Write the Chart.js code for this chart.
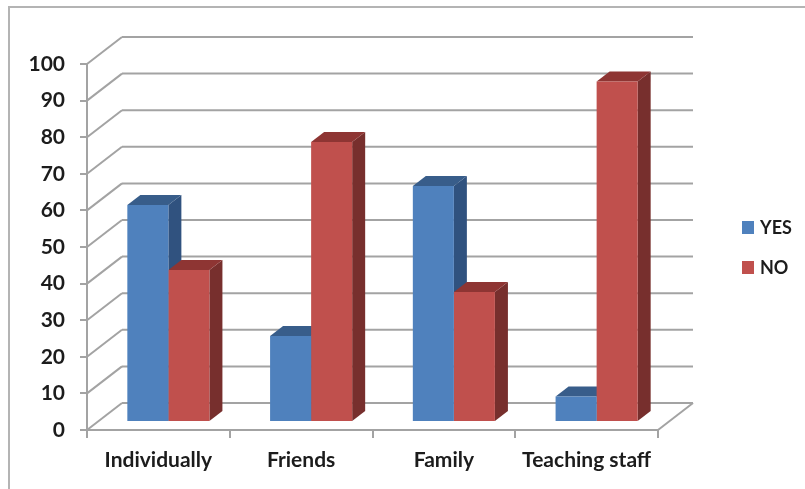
<!DOCTYPE html>
<html>
<head>
<meta charset="utf-8">
<script src="https://cdn.jsdelivr.net/npm/chart.js@4"></script>
<style>
html, body { margin: 0; padding: 0; background: #fff; overflow: hidden; }
#frame { position: absolute; left: 8px; top: 6px; width: 797px; height: 483px; border-left: 2px solid #b4b4b4; border-top: 2px solid #b4b4b4; box-sizing: border-box; }
canvas { position: absolute; left: 0; top: 0; }
</style>
</head>
<body>
<div id="frame"></div>
<canvas id="graph" width="805" height="489"></canvas>
<script>
const categories = ['Individually', 'Friends', 'Family', 'Teaching staff']
const yesValues = [59.3, 23.5, 64.5, 7]
const noValues = [41.5, 76.5, 35.5, 93]

const gridColor = '#a3a3a3'
const textColor = '#1c1c1c'
const font = { family: 'Lato', size: 21, weight: 'bold' }
const legendFont = 'bold 18px Lato'

// depth of the wall behind the front axis, and of the bars standing on the floor
const wall = { dx: 35, dy: -27 }
const barShift = { dx: 10, dy: -8 }
const barDepth = { dx: 13, dy: -10 }

function face(ctx, pts, color) {
    ctx.fillStyle = color
    ctx.beginPath()
    pts.forEach((p, i) => i ? ctx.lineTo(p[0], p[1]) : ctx.moveTo(p[0], p[1]))
    ctx.closePath()
    ctx.fill()
}

function line(ctx, x1, y1, x2, y2) {
    ctx.beginPath()
    ctx.moveTo(x1, y1)
    ctx.lineTo(x2, y2)
    ctx.stroke()
}

const fake3d = {
    id: 'fake3d',
    beforeDatasetsDraw(chart) {
        const ctx = chart.ctx
        const { left, right } = chart.chartArea
        const y = chart.scales.y

        // wall lines and floor
        ctx.save()
        ctx.strokeStyle = gridColor
        ctx.lineWidth = 2
        y.ticks.forEach(t => {
            const py = y.getPixelForValue(t.value)
            line(ctx, left, py, left + wall.dx, py + wall.dy)
            line(ctx, left + wall.dx, py + wall.dy, right + wall.dx, py + wall.dy)
        })
        line(ctx, right, y.bottom, right + wall.dx, y.bottom + wall.dy)
        ctx.restore()

        // side and top faces go first, the library draws the fronts over them
        ctx.save()
        ctx.translate(barShift.dx, barShift.dy)
        chart.data.datasets.forEach((ds, i) => {
            chart.getDatasetMeta(i).data.forEach(bar => {
                const l = bar.x - bar.width / 2
                const r = bar.x + bar.width / 2
                const { dx, dy } = barDepth
                face(ctx, [[r, bar.y], [r + dx, bar.y + dy], [r + dx, bar.base + dy], [r, bar.base]], ds.sideColor)
                face(ctx, [[l, bar.y], [l + dx, bar.y + dy], [r + dx, bar.y + dy], [r, bar.y]], ds.topColor)
            })
        })
    },
    afterDatasetsDraw(chart) {
        chart.ctx.restore()
    },
    afterDraw(chart) {
        // legend
        const ctx = chart.ctx
        ctx.save()
        ctx.font = legendFont
        ctx.textBaseline = 'middle'
        chart.data.datasets.forEach((ds, i) => {
            const cy = 228 + i * 40
            ctx.fillStyle = ds.backgroundColor
            ctx.fillRect(742, cy - 7, 12, 13)
            ctx.fillStyle = textColor
            ctx.fillText(ds.label, 760, cy)
        })
        ctx.restore()
    }
}

new Chart(document.getElementById('graph').getContext('2d'), {
    type: 'bar',
    data: {
        labels: categories,
        datasets: [
            { label: 'YES', data: yesValues, backgroundColor: '#4f81bd', sideColor: '#30527f', topColor: '#385d8a', clip: false },
            { label: 'NO', data: noValues, backgroundColor: '#c0504d', sideColor: '#772f2d', topColor: '#8e3533', clip: false }
        ]
    },
    plugins: [fake3d],
    options: {
        responsive: false,
        animation: false,
        categoryPercentage: 0.575,
        barPercentage: 1,
        layout: { autoPadding: false, padding: { left: 0, top: 64, right: 147, bottom: 0 } },
        plugins: { legend: { display: false }, tooltip: { enabled: false } },
        scales: {
            x: {
                afterFit: s => { s.height = 59 },
                grid: { drawOnChartArea: false, color: gridColor, lineWidth: 2, tickLength: 8 },
                border: { color: gridColor, width: 2 },
                ticks: { color: textColor, font, padding: 10, maxRotation: 0, autoSkip: false }
            },
            y: {
                min: 0,
                max: 100,
                afterFit: s => { s.width = 87 },
                grid: { drawOnChartArea: false, color: gridColor, lineWidth: 2, tickLength: 7 },
                border: { color: gridColor, width: 2 },
                ticks: { stepSize: 10, color: textColor, font, padding: 15 }
            }
        }
    }
})
</script>
</body>
</html>
